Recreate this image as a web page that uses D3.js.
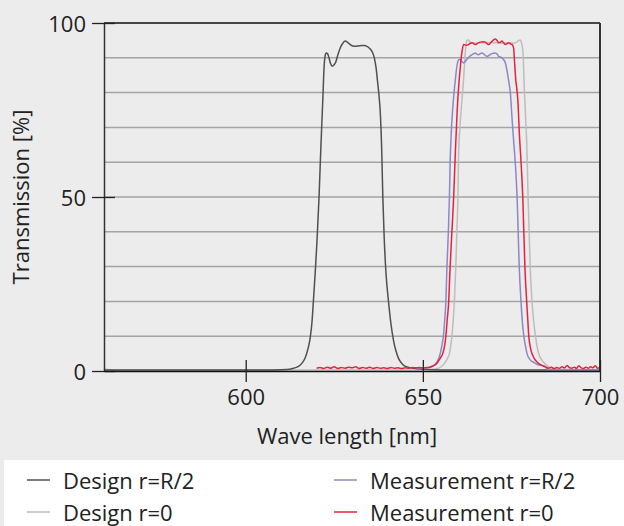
<!DOCTYPE html>
<html>
<head>
<meta charset="utf-8">
<script src="https://cdn.jsdelivr.net/npm/d3@7"></script>
<style>
  body { margin: 0; background: #ececec; }
  svg { display: block; font-family: "Open Sans", sans-serif; }
</style>
</head>
<body>
<div id="chart"></div>
<script>
// x ticks / y ticks
const xTicks = [600, 650, 700];
const yTicks = [0, 50, 100];
const gridValues = [10, 20, 30, 40, 50, 60, 70, 80, 90];

// [wavelength nm, transmission %]
const designHalf = [[560,0.3],[600,0.3],[608,0.3],[611.6,0.4],[613.5,0.8],[614.9,1.3],[616,2.4],[616.8,3.8],[617.6,6.5],[618.2,9.5],[618.7,14],[619.1,20],[619.6,28],[620.1,37],[620.7,50],[621.2,64],[621.8,79],[622.1,87],[622.4,90.5],[622.7,91.4],[623.1,91.2],[623.5,90],[624,88.2],[624.4,87.6],[624.9,87.9],[625.4,88.7],[626,90.8],[626.7,92.9],[627.4,94.2],[628.1,94.8],[628.8,94.4],[629.5,93.8],[630.2,93.4],[630.9,93.3],[631.8,93.4],[632.8,93.5],[633.5,93.5],[634.2,93.3],[635,92.7],[635.6,91.9],[636.3,90],[636.8,87.1],[637.2,83.3],[637.6,79.4],[638,74],[638.4,63],[638.7,50],[639.1,38],[639.6,28],[640.3,20],[641,13.5],[641.7,8.9],[642.4,5.8],[643.1,3.7],[643.8,2.5],[644.5,1.7],[645.8,1.1],[647.3,0.8],[650,0.5],[655,0.3],[700,0.3]];

const designZero = [[560,0.6],[563,0.3],[648,0.3],[652,0.4],[654.4,0.8],[655.5,1.5],[656.3,2.5],[657,3.7],[657.5,5],[657.9,7.5],[658.2,10],[658.6,15],[658.9,20],[659.3,30],[659.6,40],[659.9,50],[660.1,63],[660.4,69],[660.8,75],[661.2,80],[661.5,84],[661.8,89],[662.1,93],[662.4,95],[662.8,95.1],[663.3,94.6],[663.9,94.3],[665,94.2],[666.5,94.3],[668,94.4],[669.5,94.3],[671,94.3],[672.5,94.2],[674.2,94.3],[675.5,94.2],[676.5,94.5],[677.1,95],[677.5,95.1],[677.8,94.5],[678,93.6],[678.3,91],[678.6,82],[679,73],[679.4,63],[679.7,50],[680,40],[680.3,30],[680.8,20],[681.3,14],[681.8,10],[682.2,7.3],[682.7,5],[683.3,3.6],[684.1,2.5],[685.2,1.4],[686.5,0.8],[688,0.5],[700,0.3]];

const measHalf = [[648,0.6],[650,0.8],[651.1,0.9],[652,1.2],[653,1.6],[654,2.6],[654.9,5],[655.4,7.5],[655.8,10],[656.2,15],[656.5,20],[656.8,30],[657.2,40],[657.5,50],[657.7,60],[658,68],[658.4,75],[658.8,80],[659.2,84],[659.6,87.5],[659.9,89],[660.3,89.5],[660.6,89.5],[661,89],[661.5,88.5],[662,89],[662.4,89.5],[663,90.2],[663.9,90.9],[664.4,91.2],[664.8,91.4],[665.3,91],[665.7,90.9],[666.2,91.2],[666.7,91.4],[667.3,91],[668.1,90.4],[668.8,90.8],[669.5,91.2],[670.5,91.4],[671,91],[671.4,90.4],[672.3,90],[673.3,88.5],[673.7,86.6],[674.2,83.5],[674.7,79.9],[675.2,72.2],[675.6,66.5],[676.2,58],[676.6,50],[676.9,40],[677.2,30],[677.7,20],[678.1,14],[678.5,10],[679,7],[679.4,5],[680.3,3.2],[681.3,2.5],[682.5,1.8],[684.1,1.5],[685.5,0.4],[700,0.3]];

const measZero = [[620,0.8],[621,1.0],[622,0.7],[623,1.1],[624,0.8],[625,1.2],[626,0.7],[627,1.0],[628,0.8],[629,1.1],[630,0.9],[631,1.2],[632,0.7],[633,1.0],[634,0.8],[635,1.1],[636,0.7],[637,1.0],[638,0.8],[639,0.9],[640,0.7],[641,1.0],[642,0.8],[643,0.9],[644,0.7],[645,0.9],[646,0.8],[647,1.0],[648,0.9],[649,1.0],[650,0.9],[651,1.0],[652.1,1.1],[653,1.5],[654,2.2],[654.8,3.5],[655.6,5],[656.1,7],[656.5,10],[656.9,15],[657.3,20],[657.5,25],[657.7,30],[658.2,40],[658.7,50],[659.2,63.6],[659.7,75],[660.2,83],[660.6,87.6],[661,91.4],[661.5,93.8],[662.2,93.6],[662.9,93.8],[663.4,94.2],[663.9,94.3],[664.4,94],[664.8,93.8],[665.5,94.2],[666.2,94.5],[667,94.6],[667.6,94.5],[668.1,94.1],[668.6,93.8],[669.2,94.4],[669.9,95.1],[670.5,95.4],[671,94.9],[671.4,94.3],[671.9,94.5],[672.3,94.8],[672.8,94.3],[673.3,93.8],[673.8,94.1],[674.2,94.3],[674.7,94],[675.2,93.8],[675.6,92.9],[675.9,88.5],[676.2,84],[676.8,78],[677.3,67],[677.6,62],[678.2,50],[678.5,40],[678.8,30],[679.3,20],[679.6,15],[679.9,10],[680.3,7],[680.8,5],[681.5,3.5],[682.2,2.6],[683.2,1.8],[684.6,1.2],[685.5,0.8],[686.3,1.1],[687,0.7],[687.8,1.0],[688.5,0.8],[689.3,1.2],[690,0.9],[690.7,1.6],[691.3,1.0],[692,0.8],[692.8,1.1],[693.4,0.7],[694,1.5],[694.6,1.0],[695.3,0.7],[696,1.1],[696.7,0.8],[697.4,1.2],[698,0.9],[698.7,1.5],[699.3,0.8],[700,1.0]];

const seriesNames = ['Design r=R/2', 'Design r=0', 'Measurement r=R/2', 'Measurement r=0'];
const seriesColors = ['#505050', '#bdbdbd', '#8c87c8', '#e8223e'];

const width = 624, height = 526;
const plotLeft = 104, plotRight = 600, plotTop = 23, plotBottom = 371;

const svg = d3.select('#chart')
  .append('svg')
  .attr('width', width)
  .attr('height', height);

svg.append('rect')
  .attr('width', width).attr('height', height)
  .attr('fill', '#ececec');

const x = d3.scaleLinear().domain([560, 700]).range([plotLeft, plotRight]);
const y = d3.scaleLinear().domain([0, 100]).range([plotBottom, plotTop]);

// gridlines
svg.append('g')
  .selectAll('line')
  .data(gridValues)
  .enter()
  .append('line')
  .attr('x1', plotLeft).attr('x2', plotRight)
  .attr('y1', d => y(d)).attr('y2', d => y(d))
  .attr('stroke', '#a4a4a4')
  .attr('stroke-width', 1.5);

const line = d3.line()
  .x(d => x(d[0]))
  .y(d => y(d[1]))
  .curve(d3.curveMonotoneX);

// draw order: light gray under, red on top
const drawOrder = [
  { data: designZero, i: 1 },
  { data: designHalf, i: 0 },
  { data: measHalf, i: 2 },
  { data: measZero, i: 3 }
];

svg.append('g')
  .selectAll('path')
  .data(drawOrder)
  .enter()
  .append('path')
  .attr('d', d => line(d.data))
  .attr('fill', 'none')
  .attr('stroke', d => seriesColors[d.i])
  .attr('stroke-width', 1.5);

// frame
svg.append('line')
  .attr('x1', plotLeft).attr('x2', plotRight)
  .attr('y1', plotTop).attr('y2', plotTop)
  .attr('stroke', '#111').attr('stroke-width', 1.5);
svg.append('line')
  .attr('x1', plotRight).attr('x2', plotRight)
  .attr('y1', plotTop).attr('y2', plotBottom)
  .attr('stroke', '#333').attr('stroke-width', 2);

// axes
const yAxis = svg.append('g')
  .attr('transform', `translate(${plotLeft},0)`)
  .call(d3.axisLeft(y).tickValues(yTicks).tickSize(12).tickPadding(6).tickSizeOuter(0));
yAxis.selectAll('.tick line').attr('x1', 11).attr('stroke', '#222').attr('stroke-width', 1.3);
yAxis.select('.domain').attr('stroke', '#333').attr('stroke-width', 1.5);
yAxis.selectAll('.tick text')
  .attr('dy', '0.38em')
  .attr('fill', '#222')
  .style('font-size', '22px')
  .style('font-family', '"Open Sans", sans-serif');

const xAxis = svg.append('g')
  .attr('transform', `translate(0,${plotBottom})`)
  .call(d3.axisBottom(x).tickValues(xTicks).tickSize(11).tickPadding(7).tickSizeOuter(0));
xAxis.selectAll('.tick line').attr('y1', -11).attr('stroke', '#222').attr('stroke-width', 1.3);
xAxis.select('.domain').attr('stroke', '#111').attr('stroke-width', 1.5);
xAxis.selectAll('.tick text')
  .attr('fill', '#222')
  .style('font-size', '22px')
  .style('font-family', '"Open Sans", sans-serif');

// axis titles
svg.append('text')
  .attr('x', (plotLeft + plotRight) / 2 - 5)
  .attr('y', 444)
  .attr('text-anchor', 'middle')
  .attr('fill', '#222')
  .style('font-size', '22px')
  .text('Wave length [nm]');

svg.append('text')
  .attr('transform', `translate(29,${(plotTop + plotBottom) / 2}) rotate(-90)`)
  .attr('text-anchor', 'middle')
  .attr('fill', '#222')
  .style('font-size', '22px')
  .text('Transmission [%]');

// legend
svg.append('rect')
  .attr('x', 4).attr('y', 460)
  .attr('width', width - 4).attr('height', height - 460)
  .attr('fill', '#ffffff');

const legendPos = [
  { x: 27, y: 480 },
  { x: 27, y: 512 },
  { x: 334, y: 480 },
  { x: 334, y: 512 }
];

const legend = svg.append('g')
  .selectAll('g')
  .data(seriesNames)
  .enter()
  .append('g')
  .attr('transform', (d, i) => `translate(${legendPos[i].x},${legendPos[i].y})`);

legend.append('line')
  .attr('x1', 0).attr('x2', 23)
  .attr('stroke', (d, i) => seriesColors[i])
  .attr('stroke-width', 1.5);

legend.append('text')
  .attr('x', 36)
  .attr('y', 9)
  .attr('fill', '#222')
  .style('font-size', '22px')
  .text(d => d);
</script>
</body>
</html>
